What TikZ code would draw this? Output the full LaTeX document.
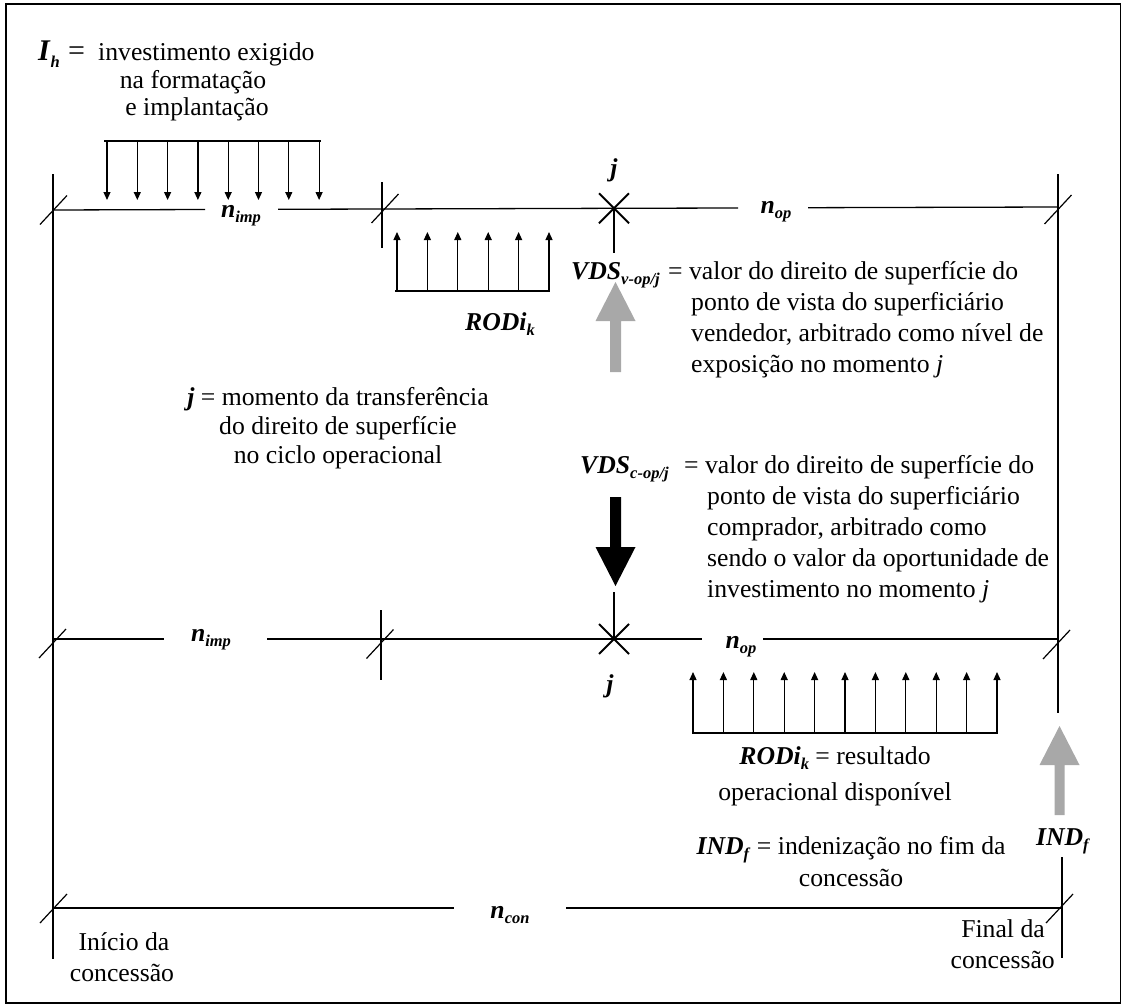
\documentclass[tikz,border=0pt]{standalone}
\usepackage{fontspec}
\setmainfont{Liberation Serif}
\usetikzlibrary{arrows.meta}
\definecolor{arrowgray}{RGB}{168,168,168}
% bold italic symbol with a bold italic subscript
\newcommand{\bsub}[2]{\textbf{\textit{#1}}\raisebox{-0.22em}{\fontsize{16.5}{16.5}\selectfont\textbf{\textit{#2}}}}
\newcommand{\bit}[1]{\textbf{\textit{#1}}}
\begin{document}
\begin{tikzpicture}[x=1pt,y=-1pt,
  font=\fontsize{25.7}{30}\selectfont,
  every node/.style={inner sep=0pt},
  lft/.style={anchor=base west},
  mid/.style={anchor=base},
  rgt/.style={anchor=base east},
  bigsym/.style={font=\fontsize{30}{34}\selectfont},
  axisline/.style={line width=1.3pt},
  flow/.style={line width=1.2pt,-{Triangle[length=8pt,width=7pt]}},
  blockgray/.style={fill=arrowgray,draw=none},
  blockblack/.style={fill=black,draw=none},
  tickslash/.pic={\draw[line width=1.2pt] (-13.5,14.5) -- (13.5,-14.5);},
  crossmark/.pic={\draw[line width=2pt] (-15,-15) -- (15,15) (-15,15) -- (15,-15);}
]
\useasboundingbox (0,0) rectangle (1123,1006);
\draw[line width=1.5pt] (6,4) rectangle (1120.5,1003);

% ---------- time points ----------
\coordinate (tA) at (53,210);
\coordinate (tB) at (382,209);
\coordinate (tJ) at (614,208.3);
\coordinate (tC) at (1058,207);
\coordinate (mA) at (53,639);
\coordinate (mB) at (381,639);
\coordinate (mJ) at (614,639);
\coordinate (mC) at (1058,639);
\coordinate (cA) at (53,908);
\coordinate (cC) at (1062,908);

% ---------- labels on the time lines ----------
\node[mid] (nimpT) at (241,217) {\bsub{n}{imp}};
\node[mid] (nopT)  at (776,213) {\bsub{n}{op}};
\node[mid] (nimpB) at (211,641) {\bsub{n}{imp}};
\node[mid] (nopB)  at (741,648) {\bsub{n}{op}};
\node[mid] (ncon)  at (510,918) {\bsub{n}{con}};

% top time line (implantation + operation)
\draw[axisline] (tA) -- (205,209.5);
\draw[axisline] (278,209.3) -- (tB) -- (tJ) -- (738,208);
\draw[axisline] (808,207.7) -- (tC);
% second time line
\draw[axisline] (mA) -- (164,639);
\draw[axisline] (267,639) -- (mB) -- (mJ) -- (702,639);
\draw[axisline] (763,639) -- (mC);
% concession line
\draw[axisline] (cA) -- (454,908);
\draw[axisline] (566,908) -- (cC);

% vertical limits
\draw[axisline] (53,174) -- (53,959);
\draw[axisline] (1058,174) -- (1058,713);
\draw[axisline] (1062,857) -- (1062,958);
\draw[axisline] (382,182) -- (382,248);
\draw[axisline] (381,610) -- (381,680);

% tick slashes
\pic at (53.5,210) {tickslash};
\pic at (385,208.5) {tickslash};
\pic at (1058,209.5) {tickslash};
\pic at (52.5,643.5) {tickslash};
\pic at (380,644) {tickslash};
\pic at (1056.5,644.5) {tickslash};
\pic at (53.5,908.5) {tickslash};
\pic at (1059.5,908.5) {tickslash};

% transfer moment j
\pic at (tJ) {crossmark};
\pic at (mJ) {crossmark};
\node[mid] (jT) at (614,176) {\bit{j}};
\node[mid] (jB) at (610,692) {\bit{j}};
\draw[axisline] (tJ) -- (614,253);
\draw[axisline] (614,592) -- (mJ);

% investment outflows I_h
\draw[axisline] (104,141) -- (321,141);
\foreach \i in {0,...,7}
  \draw[flow] ({107+30.3*\i},141) -- ({107+30.3*\i},200);
\node[lft,bigsym] (ihs) at (38,61) {\bsub{I}{h}};
\node[lft,bigsym] (ieq) at (68,61) {=};
\node[lft] (ih1) at (98,61) {investimento exigido};
\node[mid] (ih2) at (193,89) {na formatação};
\node[mid] (ih3) at (197,116) {e implantação};

% operating results before the transfer
\draw[axisline] (395,291) -- (550,291);
\foreach \i in {0,...,5}
  \draw[flow] ({397+30.4*\i},291) -- ({397+30.4*\i},232);
\node[mid] (rodT) at (500,330) {\bsub{RODi}{k}};

% operating results after the transfer
\draw[axisline] (692,733) -- (998,733);
\foreach \i in {0,...,10}
  \draw[flow] ({693+30.4*\i},733) -- ({693+30.4*\i},672);
\node[mid] (rod1) at (835,764) {\bsub{RODi}{k} = resultado};
\node[mid] (rod2) at (835,800) {operacional disponível};

% seller's value (grey arrow up)
\fill[blockgray] (610,372) -- (610,321) -- (595.5,321) -- (615.5,282) -- (635.5,321) -- (621,321) -- (621,372) -- cycle;
\node[lft] (vdsv) at (571,279) {\bsub{VDS}{v-op/j}};
\node[lft] (vv1) at (668,279) {= valor do direito de superfície do};
\node[lft] (vv2) at (691,310) {ponto de vista do superficiário};
\node[lft] (vv3) at (691,341) {vendedor, arbitrado como nível de};
\node[lft] (vv4) at (691,372) {exposição no momento \textit{j}};

% moment j description
\node[mid] (jd1) at (338,405) {\bit{j} = momento da transferência};
\node[mid] (jd2) at (338,434) {do direito de superfície};
\node[mid] (jd3) at (338,463) {no ciclo operacional};

% buyer's value (black arrow down)
\fill[blockblack] (610,497) -- (610,547) -- (595.5,547) -- (615.5,586) -- (635.5,547) -- (621,547) -- (621,497) -- cycle;
\node[lft] (vdsc) at (580,473) {\bsub{VDS}{c-op/j}};
\node[lft] (vc1) at (684,473) {= valor do direito de superfície do};
\node[lft] (vc2) at (707,504) {ponto de vista do superficiário};
\node[lft] (vc3) at (707,535) {comprador, arbitrado como};
\node[lft] (vc4) at (707,566) {sendo o valor da oportunidade de};
\node[lft] (vc5) at (707,597) {investimento no momento \textit{j}};

% indemnity at the end
\fill[blockgray] (1054.5,815) -- (1054.5,765) -- (1039.5,765) -- (1059.5,726) -- (1079.5,765) -- (1064.5,765) -- (1064.5,815) -- cycle;
\node[mid] (indR) at (1063,845) {\bsub{IND}{f}};
\node[mid] (ind1) at (851,854) {\bsub{IND}{f} = indenização no fim da};
\node[mid] (ind2) at (851,886) {concessão};

% start and end of the concession
\node[mid] (ini1) at (124,950) {Início da};
\node[mid] (ini2) at (122,981) {concessão};
\node[rgt] (fin1) at (1045,937) {Final da};
\node[rgt] (fin2) at (1055,968) {concessão};
\end{tikzpicture}
\end{document}
